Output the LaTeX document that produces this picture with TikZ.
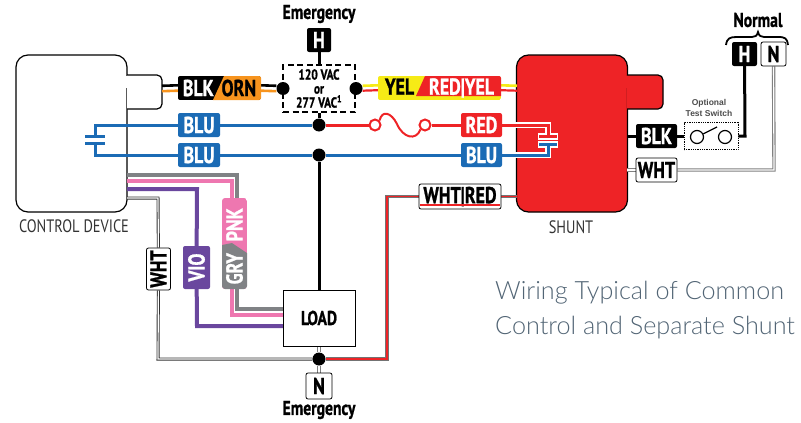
\documentclass[tikz,border=0pt]{standalone}
\usepackage{fontspec,graphicx}
\usetikzlibrary{backgrounds}
\setmainfont[BoldFeatures={FakeBold=1.2}]{PT Sans}
\newfontfamily\sidefont{Lato Light}
\newfontfamily\armfont{Liberation Sans}
\definecolor{wblu}{HTML}{1B6BB5}
\definecolor{wred}{HTML}{EE2326}
\definecolor{worn}{HTML}{F7941E}
\definecolor{wyel}{HTML}{F6EB16}
\definecolor{wpnk}{HTML}{EE77B0}
\definecolor{wgry}{HTML}{808285}
\definecolor{wvio}{HTML}{6A479E}
\definecolor{sidetext}{HTML}{526575}
\newcommand{\tagtxt}[1]{\scalebox{.78}[1]{#1}}
\tikzset{
  tagbox/.style={rounded corners=2, inner sep=0, minimum height=24, font=\fontsize{23}{23}\selectfont\bfseries},
  dot/.style={circle, fill=black, inner sep=0, minimum size=13},
  body/.style={rounded corners=12, draw=black, line width=1.2, minimum width=111, minimum height=157},
  wire/.style={line width=3},
  whtwire/.style={draw=black!50, line width=1.1, double=white, double distance=1.2},
  redwire/.style={draw=black!55, line width=1.2, double=wred, double distance=1.3},
  casing/.style={draw=white, line width=5.5},
  title/.style={font=\fontsize{20}{20}\selectfont\bfseries},
  caption/.style={font=\fontsize{18}{18}\selectfont, text=black!80}
}

\begin{document}
\begin{tikzpicture}[x=1pt, y=-1pt]

    \useasboundingbox (0, 0) rectangle (801, 423);

    % two colour tags
    \begin{scope}
      \clip [rounded corners=2] (178, 76) rectangle (261, 100);
      \fill [black] (178, 76) rectangle (261, 100);
      \fill [worn] (224, 76) -- (261, 76) -- (261, 100) -- (213, 100) -- cycle;
    \end{scope}
    \begin{scope}
      \clip [rounded corners=2] (378, 76) rectangle (501, 100);
      \fill [wyel] (378, 76) rectangle (501, 100);
      \fill [wred] (425, 76) -- (501, 76) -- (501, 96) -- (416, 96) -- cycle;
    \end{scope}
    \begin{scope}
      \clip [rounded corners=3] (222, 198) rectangle (247, 289);
      \fill [wpnk] (222, 198) rectangle (247, 289);
      \fill [wgry] (222, 245) -- (232, 243) -- (247, 253) -- (247, 289) -- (222, 289) -- cycle;
    \end{scope}

    % tags
    \node [tagbox, minimum width=83] (blkorn) at (219.5, 88) {\tagtxt{\textcolor{white}{BLK}\kern10pt\textcolor{black}{ORN}}};
    \node [tagbox, minimum width=123] (yelred) at (439.5, 88) {\tagtxt{\textcolor{black}{YEL}\kern19pt\textcolor{white}{RED|YEL}}};
    \node [tagbox, minimum width=42, fill=wblu, text=white] (blua) at (199, 125) {\tagtxt{BLU}};
    \node [tagbox, minimum width=42, fill=wblu, text=white] (blub) at (199, 155) {\tagtxt{BLU}};
    \node [tagbox, minimum width=41, fill=wred, text=white] (redt) at (481.5, 125) {\tagtxt{RED}};
    \node [tagbox, minimum width=41, fill=wblu, text=white] (bluc) at (481.5, 155) {\tagtxt{BLU}};
    \node [tagbox, minimum width=41, fill=black, text=white] (blk) at (656.5, 136) {\tagtxt{BLK}};
    \node [tagbox, minimum width=41, fill=white, draw=black, line width=.8] (wht) at (656.5, 170) {\tagtxt{WHT}};
    \node [tagbox, minimum width=82, minimum height=25, fill=white, draw=black, line width=.8] (whtred) at (460, 196.5) {\tagtxt{WHT|RED}};
    \fill [wred] (420, 203.5) rectangle (500, 205.5);
    \node [tagbox, minimum width=42, fill=white, draw=black, line width=.8, rotate=90] (whtv) at (158.5, 269) {\tagtxt{WHT}};
    \node [tagbox, minimum width=43, minimum height=27, fill=wvio, text=white, rotate=90] (vio) at (196.5, 267.5) {\tagtxt{VIO}};
    \node [tagbox, minimum width=91, minimum height=25, rotate=90] (grypnk) at (234.5, 243.5) {\tagtxt{\textcolor{white}{GRY}\kern15pt\textcolor{white}{PNK}\kern7pt}};

    % sources
    \node [title] (emtop) at (319, 14) {\tagtxt{Emergency}};
    \node [tagbox, minimum width=24, fill=black, text=white] (hem) at (319, 40) {\tagtxt{H}};
    \node [draw=black, dash pattern=on 6pt off 3.5pt, line width=1.1, minimum width=72, minimum height=47, inner sep=0, align=center, font=\fontsize{14.5}{14}\selectfont\bfseries] (volt) at (319, 88.5) {\tagtxt{120 VAC}\\\tagtxt{or}\\\tagtxt{277 VAC\textsuperscript{1}}};
    \node [dot] (da) at (283, 88.5) {};
    \node [dot] (db) at (356, 88.5) {};
    \node [dot] (dc) at (319, 125) {};
    \node [dot] (dd) at (319, 155) {};
    \node [dot] (de) at (319, 359) {};
    \node [title] (emlow) at (319, 410) {\tagtxt{Emergency}};
    \node [tagbox, minimum width=26, minimum height=26, fill=white, draw=black, line width=.8] (nem) at (319, 386) {\tagtxt{N}};
    \node [title] (normal) at (758, 20) {\tagtxt{Normal}};
    \node [tagbox, minimum width=25, fill=black, text=white] (hnor) at (744.5, 54) {\tagtxt{H}};
    \node [tagbox, minimum width=25, fill=white, draw=black, line width=.8] (nnor) at (773.5, 54) {\tagtxt{N}};
    \draw [line width=1.8] (726, 45) .. controls (727, 38) and (730, 37) .. (737, 37) -- (752, 37) .. controls (755, 37) and (757, 36) .. (758, 32) .. controls (759, 36) and (761, 37) .. (764, 37) -- (778, 37) .. controls (785, 37) and (787, 38) .. (788, 45);

    % load, fuse and switch
    \node [draw=black, line width=1, fill=white, minimum width=72, minimum height=56, font=\fontsize{20}{20}\selectfont\bfseries] (load) at (319, 318) {\tagtxt{LOAD}};
    \node [circle, draw=wred, line width=2, inner sep=0, minimum size=11] (fa) at (375, 125) {};
    \node [circle, draw=wred, line width=2, inner sep=0, minimum size=11] (fb) at (425, 125) {};
    \draw [wred, line width=2] (fa.north east) .. controls (382, 110) and (391, 112) .. (397, 124) .. controls (403, 138) and (416, 141) .. (fb.south west);
    \node [draw=black, densely dotted, line width=.8, minimum width=54, minimum height=27, inner sep=0] (sw) at (711, 136) {};
    \node [circle, draw=black, line width=1.2, inner sep=0, minimum size=13] (swa) at (697, 137) {};
    \node [circle, draw=black, line width=1.2, inner sep=0, minimum size=13] (swb) at (725, 137) {};
    \coordinate (swc) at (717, 127);
    \draw [line width=1.2] (swa) -- (swc);
    \node [font=\armfont\fontsize{8.5}{11}\selectfont\bfseries, text=black!70, align=center, inner sep=0] (opt) at (709, 107.5) {Optional\\Test Switch};

    % captions
    \node [caption] (cdev) at (74, 226) {\scalebox{.8}[1]{CONTROL DEVICE}};
    \node [caption] (shl) at (571, 227) {\scalebox{.8}[1]{SHUNT}};
    \node [anchor=west, inner sep=0, text=sidetext, font=\sidefont\fontsize{25.2}{26}\selectfont] (sidea) at (495, 293) {Wiring Typical of Common};
    \node [anchor=west, inner sep=0, text=sidetext, font=\sidefont\fontsize{25.2}{26}\selectfont] (sideb) at (495, 328) {Control and Separate Shunt};

    \begin{scope}[on background layer]
      % control device
      \node [body, fill=white] (ctrl) at (71.5, 133.5) {};
      \draw [rounded corners=5, line width=1.2, fill=white] (127, 75) -- (162, 75) -- (162, 109) -- (127, 109);
      \draw [white, line width=1.6] (127, 76) -- (127, 88);

      % shunt
      \node [body, fill=wred] (shunt) at (572, 133.5) {};
      \draw [rounded corners=5, line width=1.2, fill=wred] (627, 75) -- (663, 75) -- (663, 109) -- (627, 109);
      \draw [wred, line width=1.6] (627, 76) -- (627, 88);

      \coordinate (tabe) at (162, 88.5);
      \coordinate (shw) at (517, 88.5);
      \coordinate (cdca) at (95, 125);
      \coordinate (cdcb) at (95, 155);
      \coordinate (shca) at (548, 125);
      \coordinate (shcb) at (548, 155);
      \coordinate (pla) at (95, 136);
      \coordinate (plb) at (95, 143);
      \coordinate (plc) at (548, 136.5);
      \coordinate (pld) at (548, 144);

      \draw [wire, line width=2.6] ([yshift=2.7]tabe) -- ([yshift=2.7]blkorn.west);
      \draw [wire, line width=2.6, worn] ([yshift=-2.7]tabe) -- ([yshift=-2.7]blkorn.west);
      \draw [wire, line width=2.6] ([yshift=2.7]blkorn.east) -- ([yshift=2.7]da.west);
      \draw [wire, line width=2.6, worn] ([yshift=-2.7]blkorn.east) -- ([yshift=-2.7]da.west);
      \draw [wire, line width=2.6, wyel] ([yshift=2.7]db.east) -- ([yshift=2.7]yelred.west);
      \draw [wire, line width=2.2, wred] ([yshift=-2.2]db.east) -- ([yshift=-2.2]yelred.west);
      \draw [wire, line width=2.6, wyel] ([yshift=2.7]yelred.east) -- ([yshift=2.7]shw);
      \draw [wire, line width=2.2, wred] ([yshift=-2.2]yelred.east) -- ([yshift=-2.2]shw);

      \draw [wire] (hem) -- (volt);
      \draw [wire] (volt) -- (dc);
      \draw [wire] (dd) -- (load);

      % capacitor at the device
      \draw [wire, wblu] (pla) -- (cdca) -- (blua);
      \draw [wire, wblu] (plb) -- (cdcb) -- (blub);
      \draw [wire, wblu] ([xshift=-10]pla) -- ([xshift=10]pla);
      \draw [wire, wblu] ([xshift=-10]plb) -- ([xshift=10]plb);
      \draw [wire, wblu] (blua) -- (dc);
      \draw [wire, wblu] (blub) -- (dd);
      \draw [wire, wblu] (dd) -- (bluc);

      \draw [wire, wred] (dc) -- (fa);
      \draw [wire, wred] (fb) -- (redt);

      % capacitor at the shunt
      \draw [casing] (redt) -- (shca) -- (plc);
      \draw [casing] (bluc) -- (shcb) -- (pld);
      \draw [casing, line width=7] ([xshift=-10]plc) -- ([xshift=10]plc);
      \draw [casing, line width=7] ([xshift=-10]pld) -- ([xshift=10]pld);
      \draw [wire, wred] (redt) -- (shca) -- (plc);
      \draw [wire, wblu] (bluc) -- (shcb) -- (pld);
      \draw [wire, wred] ([xshift=-9]plc) -- ([xshift=9]plc);
      \draw [wire, wblu] ([xshift=-9]pld) -- ([xshift=9]pld);

      % shunt to normal feed
      \coordinate (shk) at (627, 136);
      \coordinate (shn) at (627, 170);
      \coordinate (sha) at (517, 196.5);
      \coordinate (hcor) at (745, 136);
      \coordinate (ncor) at (774, 170);
      \draw [wire] (shk) -- (blk);
      \draw [wire] (blk) -- (sw);
      \draw [wire] (sw.east) -- (hcor) -- (hnor);
      \draw [whtwire] (shn) -- (wht);
      \draw [whtwire] (wht) -- (ncor) -- (nnor);

      % device to load
      \coordinate (gsa) at (127, 175);
      \coordinate (gsb) at (237, 175);
      \coordinate (gsc) at (237, 309);
      \coordinate (gsd) at (283, 309);
      \coordinate (psa) at (127, 180.5);
      \coordinate (psb) at (232, 180.5);
      \coordinate (psc) at (232, 315);
      \coordinate (psd) at (283, 315);
      \coordinate (vsa) at (127, 189);
      \coordinate (vsb) at (197, 189);
      \coordinate (vsc) at (197, 326);
      \coordinate (vsd) at (283, 326);
      \coordinate (wsa) at (127, 198);
      \coordinate (wsb) at (158, 198);
      \coordinate (wsc) at (158, 359);
      \draw [wire, wgry, line width=4] (gsa) -- (gsb) -- (grypnk.east -| gsb);
      \draw [wire, wgry, line width=4] (grypnk.west -| gsc) -- (gsc) -- (gsd);
      \draw [wire, wpnk, line width=4] (psa) -- (psb) -- (grypnk.east -| psb);
      \draw [wire, wpnk, line width=4] (grypnk.west -| psc) -- (psc) -- (psd);
      \draw [wire, wvio, line width=4] (vsa) -- (vsb) -- (vio);
      \draw [wire, wvio, line width=4] (vio) -- (vsc) -- (vsd);
      \draw [whtwire, draw=black!80, line width=.9] (wsa) -- (wsb) -- (whtv);
      \draw [whtwire, draw=black!80, line width=.9] (whtv) -- (wsc) -- (de);
      \draw [whtwire] (load) -- (de);
      \draw [whtwire] (de) -- (nem);

      % shunt to neutral
      \coordinate (rca) at (387, 196.5);
      \coordinate (rcb) at (387, 359);
      \draw [redwire] (sha) -- (whtred);
      \draw [redwire] (whtred) -- (rca) -- (rcb) -- (de);
    \end{scope}

\end{tikzpicture}
\end{document}
